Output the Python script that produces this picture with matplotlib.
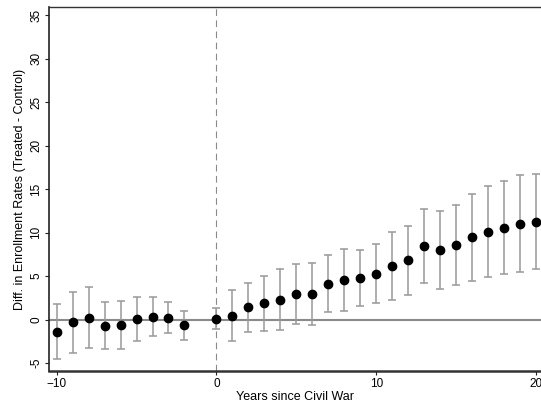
import matplotlib
matplotlib.use("Agg")
import matplotlib.pyplot as plt
import numpy as np

plt.rcParams["font.family"] = ["Liberation Sans", "DejaVu Sans"]

# Роки відносно громадянської війни (рік -1 відсутній)
years = [-10, -9, -8, -7, -6, -5, -4, -3, -2,
         0, 1, 2, 3, 4, 5, 6, 7, 8, 9, 10,
         11, 12, 13, 14, 15, 16, 17, 18, 19, 20]
estimates = [-1.45, -0.31, 0.23, -0.73, -0.65, 0.07, 0.35, 0.23, -0.65,
             0.08, 0.46, 1.42, 1.89, 2.30, 2.96, 2.96, 4.11, 4.53, 4.80, 5.30,
             6.19, 6.80, 8.45, 7.99, 8.57, 9.45, 10.10, 10.56, 11.03, 11.26]
ci_upper = [1.77, 3.20, 3.80, 2.00, 2.10, 2.60, 2.65, 2.00, 1.04,
            1.38, 3.40, 4.26, 5.03, 5.84, 6.45, 6.53, 7.42, 8.07, 8.03, 8.64,
            10.07, 10.71, 12.72, 12.44, 13.21, 14.44, 15.37, 15.90, 16.59, 16.75]
ci_lower = [-4.56, -3.80, -3.30, -3.40, -3.40, -2.40, -1.90, -1.50, -2.30,
            -1.10, -2.40, -1.38, -1.27, -1.22, -0.46, -0.65, 0.89, 0.96, 1.61, 1.96,
            2.23, 2.88, 4.26, 3.57, 3.96, 4.46, 4.88, 5.30, 5.46, 5.81]

xticks = [-10, 0, 10, 20]
yticks = [-5, 0, 5, 10, 15, 20, 25, 30, 35]

est = np.array(estimates)
err = [est - np.array(ci_lower), np.array(ci_upper) - est]

fig = plt.figure(figsize=(5.41, 4.07), dpi=100)
ax = fig.add_axes([0.0911, 0.0885, 0.9089, 0.8935])

ax.axhline(0, color="#8a8a8a", lw=1.5, zorder=1)
ax.axvline(0, color="#8a8a8a", lw=0.8, ls=(0, (6, 4)), zorder=1)
ax.errorbar(years, estimates, yerr=err, fmt="none", ecolor="#999999",
            elinewidth=1.1, capsize=3.2, capthick=1.1, zorder=2)
ax.plot(years, estimates, "o", color="black", markersize=6, zorder=3)

ax.set_xlim(-10.46, 20.31)
ax.set_ylim(-5.89, 35.88)
ax.set_xticks(xticks)
ax.set_yticks(yticks)
ax.set_yticklabels([str(t) for t in yticks], rotation=90, va="center")
ax.tick_params(axis="both", labelsize=8.5, length=3, width=0.8, colors="#222222",
               pad=2)
ax.tick_params(axis="both", labelcolor="black")

ax.set_xlabel("Years since Civil War", fontsize=9, labelpad=1)
ax.set_ylabel("Diff. in Enrollment Rates (Treated - Control)", fontsize=9, labelpad=3)

ax.spines["right"].set_visible(False)
ax.spines["top"].set_linewidth(1.0)
ax.spines["top"].set_color("#333333")
ax.spines["left"].set_linewidth(1.2)
ax.spines["left"].set_color("#222222")
ax.spines["bottom"].set_linewidth(1.8)
ax.spines["bottom"].set_color("#333333")

fig.savefig("out.png", dpi=100)
